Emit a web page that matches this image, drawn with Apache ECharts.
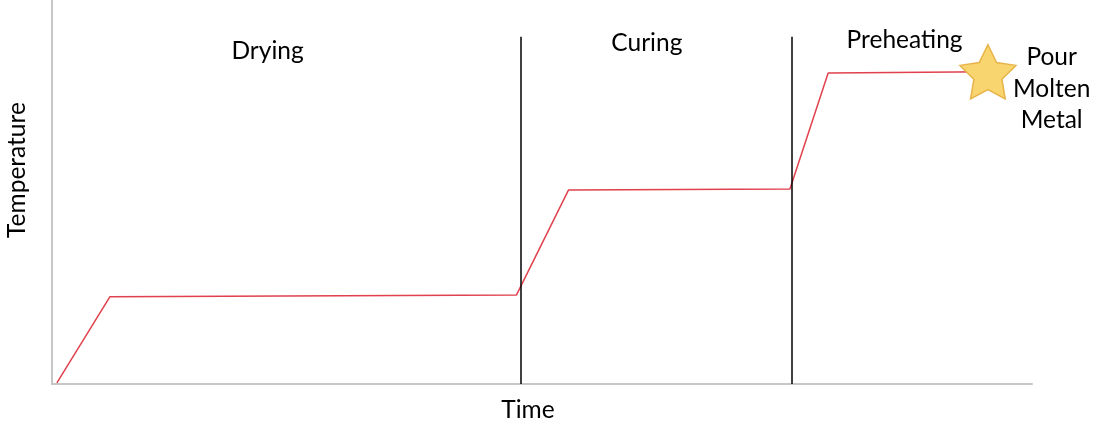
<!DOCTYPE html>
<html><head><meta charset="utf-8">
<script src="https://cdn.jsdelivr.net/npm/echarts@6/dist/echarts.min.js"></script>
<style>html,body{margin:0;padding:0;background:#fff}#c{width:1107px;height:427px}</style>
</head><body><div id="c"></div>
<script>
// Temperature profile (time, temperature) in arbitrary units
const timeValues = [0.5, 5.9, 47.4, 52.7, 75.3, 79.2, 95.5];
const tempValues = [0.3, 22.7, 23.2, 50.5, 50.8, 81.0, 81.3];
// Phase boundaries (time)
const phaseBoundaries = [47.8, 75.5];
const boundaryTop = 90.4;
// Phase labels and their anchor (time, temperature)
const phaseLabels = ['Drying', 'Curing', 'Preheating'];
const phaseLabelX = [22.0, 60.7, 87.0];
const phaseLabelY = [86.8, 88.7, 89.5];
// Final event
const eventLabel = 'Pour\nMolten\nMetal';
const eventX = 95.5;
const eventY = 81.3;

const FONT = 'Lato';
const FS = 24.5;
const chart = echarts.init(document.getElementById('c'));
const lineData = timeValues.map((t, i) => [t, tempValues[i]]);
const starPath = 'path://M50,0 L64.7,29.8 L97.6,34.5 L73.8,57.7 L79.4,90.5 L50,75 L20.6,90.5 L26.2,57.7 L2.4,34.5 L35.3,29.8 Z';

chart.setOption({
  animation: false,
  grid: {left: 52, right: 75, top: 0, bottom: 43, outerBoundsMode: 'none', containLabel: false},
  xAxis: {
    type: 'value', min: 0, max: 100,
    name: 'Time', nameLocation: 'middle', nameGap: 14,
    nameTextStyle: {fontFamily: FONT, fontSize: FS, color: '#000', padding: [0, 28, 0, 0]},
    axisLine: {show: true, lineStyle: {color: '#c6c6c6', width: 2}},
    axisTick: {show: false}, axisLabel: {show: false}, splitLine: {show: false}
  },
  yAxis: {
    type: 'value', min: 0, max: 100,
    name: 'Temperature', nameLocation: 'middle', nameGap: 22, nameRotate: 90,
    nameTextStyle: {fontFamily: FONT, fontSize: FS, color: '#000', padding: [0, 0, 0, 44]},
    axisLine: {show: true, lineStyle: {color: '#c6c6c6', width: 2}},
    axisTick: {show: false}, axisLabel: {show: false}, splitLine: {show: false}
  },
  series: [
    {
      type: 'line', data: lineData, symbol: 'none',
      lineStyle: {color: '#e0414c', width: 1.5}, z: 3,
      markLine: {
        silent: true, symbol: 'none', label: {show: false},
        lineStyle: {color: '#000', width: 1.5, type: 'solid'},
        data: phaseBoundaries.map(b => [{coord: [b, 0]}, {coord: [b, boundaryTop]}])
      }
    },
    {
      type: 'scatter', symbolSize: 0,
      itemStyle: {opacity: 1},
      data: phaseLabels.map((n, i) => ({value: [phaseLabelX[i], phaseLabelY[i]], name: n})),
      label: {show: true, position: 'inside', formatter: p => p.name,
        fontFamily: FONT, fontSize: FS, color: '#000', opacity: 1}
    },
    {
      type: 'scatter', symbol: starPath, symbolSize: [56, 54], z: 5,
      itemStyle: {color: '#f8d56f', borderColor: '#e8b448', borderWidth: 1.5, opacity: 1},
      data: [{value: [eventX, eventY], name: eventLabel}],
      label: {show: true, position: 'right', distance: 2, formatter: p => p.name,
        fontFamily: FONT, fontSize: FS, lineHeight: 31.5, color: '#000', align: 'center', offset: [33, 17]}
    }
  ]
});
</script></body></html>
